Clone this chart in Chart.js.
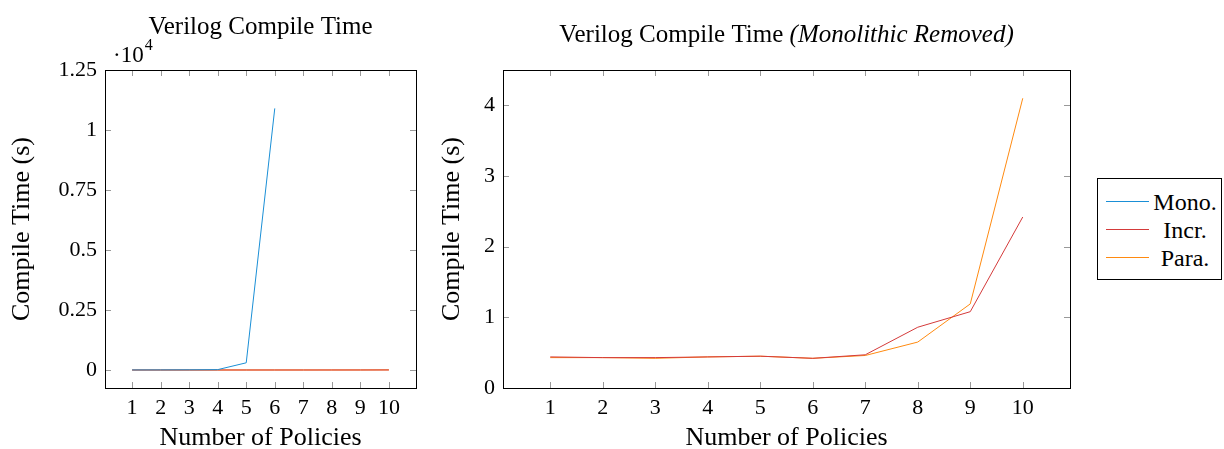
<!DOCTYPE html>
<html>
<head>
<meta charset="utf-8">
<script src="https://cdn.jsdelivr.net/npm/chart.js@4"></script>
<style>
  body { margin: 0; background: #fff; font-family: "Liberation Serif", Tinos, "Times New Roman", "DejaVu Serif", serif; }
  #wrap { position: relative; width: 1224px; height: 449px; overflow: hidden; }
  canvas { position: absolute; top: 0; }
  #left { left: 0; }
  #right { left: 430px; }
  .legend { position: absolute; left: 1097px; top: 178px; width: 125px; height: 102px;
            border: 1px solid #000; box-sizing: border-box; background: #fff; }
  .legend .row { position: absolute; left: 0; height: 28px; width: 100%; }
  .legend .swatch { position: absolute; left: 8px; top: 13px; width: 43px; height: 1px; }
  .legend .lbl { position: absolute; left: 51px; right: 0; top: 0; text-align: center;
                 font-size: 24px; line-height: 28px; color: #000; }
</style>
</head>
<body>
<div id="wrap">
  <canvas id="left" width="430" height="449"></canvas>
  <canvas id="right" width="660" height="449"></canvas>
  <div class="legend" id="legend"></div>
</div>
<script>
// policies on the x axis
const policies = [1, 2, 3, 4, 5, 6, 7, 8, 9, 10];
// compile times in seconds
const monoTimes = [2, 4, 8, 15, 300, 10900];
const incrTimes = [0.44, 0.43, 0.43, 0.44, 0.45, 0.42, 0.47, 0.86, 1.08, 2.42];
const paraTimes = [0.43, 0.43, 0.42, 0.44, 0.45, 0.42, 0.46, 0.65, 1.19, 4.1];
// tick labels
const leftYTicks = [0, 2500, 5000, 7500, 10000, 12500];
const rightYTicks = [0, 1, 2, 3, 4];

const seriesNames = ['Mono.', 'Incr.', 'Para.'];
const colors = ['#1a8fd6', '#d43a3a', '#ff8a10'];
const FONT = '"Liberation Serif", Tinos, "Times New Roman", "DejaVu Serif", serif';

function toPoints(values) {
    return values.map((v, i) => ({ x: policies[i], y: v }));
}

function lineSet(label, values, color) {
    return {
        label: label,
        data: toPoints(values),
        borderColor: color,
        backgroundColor: color,
        borderWidth: 1,
        pointRadius: 0,
        tension: 0
    };
}

// inward tick marks on all four sides, plus the black frame
const frameTicks = {
    id: 'frameTicks',
    afterDatasetsDraw(chart, args, opts) {
        const ctx = chart.ctx;
        const a = chart.chartArea;
        const len = 6;
        ctx.save();
        ctx.strokeStyle = '#999';
        ctx.lineWidth = 1;
        ctx.beginPath();
        chart.scales.x.ticks.forEach(t => {
            const px = Math.round(chart.scales.x.getPixelForValue(t.value)) + 0.5;
            ctx.moveTo(px, a.bottom); ctx.lineTo(px, a.bottom - len);
            ctx.moveTo(px, a.top); ctx.lineTo(px, a.top + len);
        });
        chart.scales.y.ticks.forEach(t => {
            const py = Math.round(chart.scales.y.getPixelForValue(t.value)) + 0.5;
            ctx.moveTo(a.left, py); ctx.lineTo(a.left + len, py);
            ctx.moveTo(a.right, py); ctx.lineTo(a.right - len, py);
        });
        ctx.stroke();
        ctx.strokeStyle = '#000';
        ctx.strokeRect(Math.round(a.left) + 0.5, Math.round(a.top) + 0.5,
                       Math.round(a.right - a.left), Math.round(a.bottom - a.top));
        ctx.restore();
    }
};

// titles drawn above the plot area
const topText = {
    id: 'topText',
    afterDraw(chart, args, opts) {
        const ctx = chart.ctx;
        const a = chart.chartArea;
        const cx = (a.left + a.right) / 2;
        ctx.save();
        ctx.fillStyle = '#000';
        ctx.textBaseline = 'alphabetic';
        const normal = '25px ' + FONT;
        const italic = 'italic 25px ' + FONT;
        ctx.font = normal;
        const w1 = ctx.measureText(opts.title).width;
        let w2 = 0;
        if (opts.italic) {
            ctx.font = italic;
            w2 = ctx.measureText(opts.italic).width;
        }
        let x = cx - (w1 + w2) / 2;
        ctx.font = normal;
        ctx.textAlign = 'left';
        ctx.fillText(opts.title, x, opts.titleY);
        if (opts.italic) {
            ctx.font = italic;
            ctx.fillText(opts.italic, x + w1, opts.titleY);
        }
        if (opts.exponent) {
            ctx.font = '23px ' + FONT;
            ctx.fillText('\u00b710', a.left + 8, 62);
            const w = ctx.measureText('\u00b710').width;
            ctx.font = '16px ' + FONT;
            ctx.fillText('4', a.left + 8 + w + 1, 50);
        }
        ctx.restore();
    }
};

function axisOptions(xMin, xMax, yMin, yMax, yTicks, yFormat, yWidth) {
    return {
        x: {
            type: 'linear',
            min: xMin,
            max: xMax,
            grid: { display: false, drawTicks: false },
            border: { display: false },
            afterBuildTicks: s => { s.ticks = policies.map(v => ({ value: v })); },
            afterFit: s => { s.height = 61; },
            ticks: {
                color: '#000',
                padding: 7,
                font: { family: FONT, size: 22 },
                callback: v => String(v)
            },
            title: {
                display: true,
                text: 'Number of Policies',
                color: '#000',
                font: { family: FONT, size: 26, lineHeight: 1 },
                padding: { top: 0, bottom: -2 }
            }
        },
        y: {
            min: yMin,
            max: yMax,
            grid: { display: false, drawTicks: false },
            border: { display: false },
            afterBuildTicks: s => { s.ticks = yTicks.map(v => ({ value: v })); },
            afterFit: s => { s.width = yWidth; },
            ticks: {
                color: '#000',
                padding: 8,
                font: { family: FONT, size: 22 },
                callback: yFormat
            },
            title: {
                display: true,
                text: 'Compile Time (s)',
                color: '#000',
                font: { family: FONT, size: 26, lineHeight: 1 },
                padding: { top: 9, bottom: 0 }
            }
        }
    };
}

new Chart(document.getElementById('left'), {
    type: 'line',
    data: {
        datasets: [
            lineSet(seriesNames[0], monoTimes, colors[0]),
            lineSet(seriesNames[1], incrTimes, colors[1]),
            lineSet(seriesNames[2], paraTimes, colors[2])
        ]
    },
    options: {
        responsive: false,
        animation: false,
        layout: { padding: { left: 0, right: 14, top: 70, bottom: 0 } },
        plugins: {
            legend: { display: false },
            tooltip: { enabled: false },
            topText: { title: 'Verilog Compile Time', titleY: 34, exponent: true }
        },
        scales: axisOptions(0.05, 10.95, -750, 12500, leftYTicks, v => String(v / 10000), 105)
    },
    plugins: [frameTicks, topText]
});

new Chart(document.getElementById('right'), {
    type: 'line',
    data: {
        datasets: [
            lineSet(seriesNames[1], incrTimes, colors[1]),
            lineSet(seriesNames[2], paraTimes, colors[2])
        ]
    },
    options: {
        responsive: false,
        animation: false,
        layout: { padding: { left: 0, right: 20, top: 70, bottom: 0 } },
        plugins: {
            legend: { display: false },
            tooltip: { enabled: false },
            topText: { title: 'Verilog Compile Time ', italic: '(Monolithic Removed)', titleY: 42 }
        },
        scales: axisOptions(0.1, 10.9, 0, 4.5, rightYTicks, v => String(v), 73)
    },
    plugins: [frameTicks, topText]
});

// legend box to the right
const legend = document.getElementById('legend');
seriesNames.forEach((name, i) => {
    const row = document.createElement('div');
    row.className = 'row';
    row.style.top = (9 + i * 28) + 'px';
    row.innerHTML = '<div class="swatch" style="background-color:' + colors[i] + '"></div>' +
                    '<div class="lbl">' + name + '</div>';
    legend.appendChild(row);
});
</script>
</body>
</html>
